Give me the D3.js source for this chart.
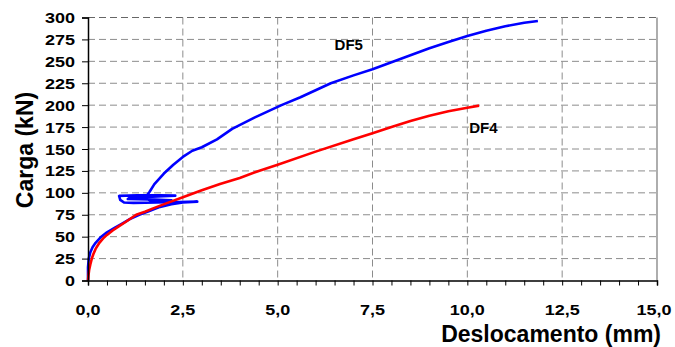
<!DOCTYPE html>
<html>
<head>
<meta charset="utf-8">
<script src="https://cdn.jsdelivr.net/npm/d3@7"></script>
<style>
    body { margin: 0; background: #fff; }
    svg text { font-family: "Liberation Sans", Arial, sans-serif; font-weight: bold; fill: #000; }
    .grid line { stroke: #8c8c8c; stroke-width: 1; stroke-dasharray: 7,4; }
</style>
</head>
<body>
<svg id="chart" width="675" height="347"></svg>
<script>
// DF5 (azul) - deslocamento (mm) / carga (kN)
const df5Desloc = [0, 0.0, 0.02, 0.06, 0.12, 0.2, 0.35, 0.5, 0.7, 0.9, 1.1, 1.35, 1.6, 1.9, 2.2, 2.5, 2.88,
    2.4, 1.8, 1.2, 0.95, 0.85, 0.82, 1.3, 1.9, 2.3, 1.7, 1.1, 1.05, 1.6, 2.2, 1.7, 1.55, 1.55, 1.62,
    1.75, 2.0, 2.25, 2.5, 2.75, 3.0, 3.4, 3.8, 4.4, 5.1, 5.6, 6.0, 6.4, 7.0, 7.5, 8.0, 8.5, 9.0, 9.5, 10.0,
    10.5, 11.0, 11.5, 11.86];
const df5Carga = [0, 15, 25, 32, 38, 43, 50, 55, 60, 65, 70, 75, 79, 84, 87, 89, 90,
    89.5, 89, 88.5, 89, 92, 96.5, 97.3, 97.3, 96.8, 95.5, 94.5, 93, 92.5, 91.5, 90.5, 93, 97, 101,
    110, 122, 132, 141, 148, 152, 161, 173, 186, 200, 209, 217, 225, 234, 241, 249, 257, 265, 272, 279,
    285, 290, 294, 296];

// DF4 (vermelho)
const df4Desloc = [0, 0.01, 0.03, 0.06, 0.1, 0.14, 0.2, 0.3, 0.4, 0.5, 0.65, 0.82, 1.0, 1.27, 1.5, 1.7,
    2.06, 2.5, 3.0, 3.48, 4.0, 4.5, 5.0, 6.0, 7.0, 7.5, 8.0, 8.5, 9.0, 9.5, 10.0, 10.31];
const df4Carga = [0, 5, 12, 18, 25, 30, 36, 43, 48, 52, 57, 62, 67, 75, 78.5, 82,
    88, 95, 103, 110, 117, 125, 132, 147, 161, 168, 175, 182, 188, 193, 197, 199.5];

const xTicks = [0, 2.5, 5, 7.5, 10, 12.5, 15];
const xMinorTicks = d3.range(0, 15.01, 0.5);
const yTicks = [0, 25, 50, 75, 100, 125, 150, 175, 200, 225, 250, 275, 300];

const seriesLabels = [
    { name: 'DF5', x: 6.5, y: 263 },
    { name: 'DF4', x: 10.05, y: 168 }
];

const plot = { left: 88, right: 657, top: 17.5, bottom: 280.5 };
const svg = d3.select('#chart');

const x = d3.scaleLinear().domain([0, 15]).range([plot.left, plot.right]);
const y = d3.scaleLinear().domain([0, 300]).range([plot.bottom, plot.top]);
const fmt = d => d3.format('.1f')(d).replace('.', ',');

// grid
const grid = svg.append('g').attr('class', 'grid');
grid.selectAll('.h').data(yTicks.filter(d => d > 0)).enter().append('line')
    .attr('x1', plot.left).attr('x2', plot.right)
    .attr('y1', d => y(d)).attr('y2', d => y(d))
    .style('stroke', d => d === 300 ? '#666' : null);
grid.selectAll('.v').data(xTicks.filter(d => d > 0 && d < 15)).enter().append('line')
    .attr('y1', plot.top).attr('y2', plot.bottom)
    .attr('x1', d => x(d)).attr('x2', d => x(d));

// right border
svg.append('line')
    .attr('x1', plot.right).attr('x2', plot.right)
    .attr('y1', plot.top).attr('y2', plot.bottom)
    .attr('stroke', '#777').attr('stroke-width', 1.2);

// curves (blue first, red drawn on top)
const line = d3.line().x(d => x(d[0])).y(d => y(d[1]));
const curves = [
    { xs: df5Desloc, ys: df5Carga, color: '#0000ff' },
    { xs: df4Desloc, ys: df4Carga, color: '#ff0000' }
];
curves.forEach(c => {
    svg.append('path')
        .datum(c.xs.map((v, i) => [v, c.ys[i]]))
        .attr('d', line)
        .attr('fill', 'none')
        .attr('stroke', c.color)
        .attr('stroke-width', 2.6)
        .attr('stroke-linejoin', 'round');
});

// axes
const xAxis = d3.axisBottom(x).tickValues(xMinorTicks).tickSize(5).tickFormat('');
svg.append('g').attr('transform', `translate(0,${plot.bottom})`).call(xAxis)
    .call(g => g.selectAll('line, path').attr('stroke', '#000'))
    .call(g => g.select('.domain').attr('stroke-width', 1.5));

// tick labels are drawn a bit wide in the original, so stretch them
svg.append('g').selectAll('text').data(xTicks).enter().append('text')
    .attr('transform', d => `translate(${Math.min(x(d), 654)},315) scale(1.2,1)`)
    .attr('text-anchor', 'middle')
    .style('font-size', '15px')
    .text(fmt);

const yAxis = d3.axisLeft(y).tickValues(yTicks).tickSize(6).tickFormat('');
svg.append('g').attr('transform', `translate(${plot.left},0)`).call(yAxis)
    .call(g => g.selectAll('line, path').attr('stroke', '#000'))
    .call(g => g.select('.domain').attr('stroke-width', 1.5));

svg.append('g').selectAll('text').data(yTicks).enter().append('text')
    .attr('transform', d => `translate(75,${y(d) + 5.5}) scale(1.2,1)`)
    .attr('text-anchor', 'end')
    .style('font-size', '15px')
    .text(d => d);

// axis titles
svg.append('text')
    .attr('x', 661).attr('y', 341.5)
    .attr('text-anchor', 'end')
    .style('font-size', '23px')
    .text('Deslocamento (mm)');

svg.append('text')
    .attr('transform', 'translate(33,150) rotate(-90)')
    .attr('text-anchor', 'middle')
    .style('font-size', '23px')
    .text('Carga (kN)');

// series labels
svg.append('g').selectAll('text').data(seriesLabels).enter().append('text')
    .attr('x', d => x(d.x))
    .attr('y', d => y(d.y))
    .style('font-size', '15px')
    .text(d => d.name);
</script>
</body>
</html>
